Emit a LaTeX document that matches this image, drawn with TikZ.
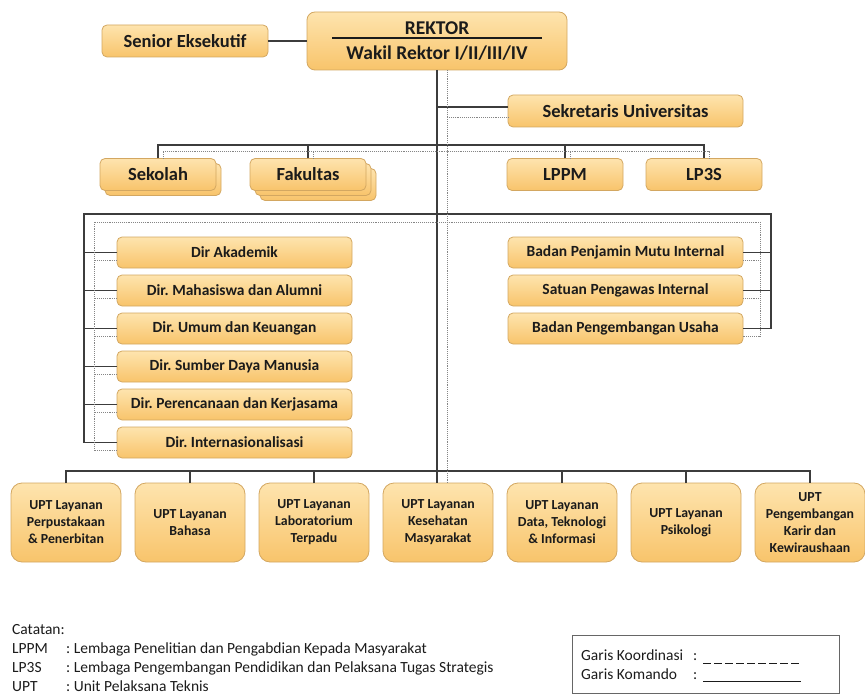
\documentclass[tikz,border=0pt]{standalone}
\usepackage{fontspec}
\setmainfont{Carlito}
\usepackage{tikz}
\usetikzlibrary{positioning}
\definecolor{boxtop}{HTML}{FEE4AE}
\definecolor{boxbottom}{HTML}{F8C46B}
\definecolor{boxedge}{HTML}{D3A761}
\definecolor{komandogray}{HTML}{3C3C3C}
\definecolor{koordgray}{HTML}{858585}
\definecolor{inkdark}{HTML}{1B1B1B}
\frenchspacing

\begin{document}
\begin{tikzpicture}[
    x=1pt, y=-1pt,
    unit/.style={rectangle, draw=boxedge, top color=boxtop, bottom color=boxbottom,
                 text=inkdark, align=center, rounded corners=5pt, line width=0.8pt,
                 inner sep=2pt, outer sep=0pt, minimum height=32pt,
                 font=\fontsize{18.5}{21}\selectfont\bfseries},
    dirunit/.style={unit, minimum width=235pt, minimum height=31pt,
                    font=\fontsize{15.5}{18}\selectfont\bfseries},
    uptunit/.style={unit, minimum width=110pt, minimum height=79pt, rounded corners=11pt,
                    font=\fontsize{13.8}{17}\selectfont\bfseries},
    komando/.style={draw=komandogray, line width=1.6pt},
    koordinasi/.style={draw=koordgray, line width=0.9pt, densely dotted},
    note/.style={anchor=base west, inner sep=0pt, text=inkdark,
                 font=\fontsize{15.5}{18}\selectfont}
]
    \useasboundingbox (0,0) rectangle (865,698);

    % pimpinan
    \node[unit, minimum width=260pt, minimum height=58pt, rounded corners=8pt,
          font=\fontsize{19.5}{25}\selectfont\bfseries] (rektor) at (437,41)
          {REKTOR\\Wakil Rektor I/II/III/IV};
    \draw[inkdark, line width=1.3pt] ([xshift=-105pt,yshift=3pt]rektor.center) -- ([xshift=105pt,yshift=3pt]rektor.center);
    \node[unit, minimum width=166pt] (senior) at (185,41) {Senior Eksekutif};
    \node[unit, minimum width=235pt] (sekretaris) at (625.5,111) {Sekretaris Universitas};

    % sekolah, fakultas, lembaga
    \node[unit, minimum width=116pt] (sekolahB) at (163,179.5) {};
    \node[unit, minimum width=116pt] (sekolah) at (158,174.5) {Sekolah};
    \node[unit, minimum width=116pt] (fakultasC) at (318,184.5) {};
    \node[unit, minimum width=116pt] (fakultasB) at (313,179.5) {};
    \node[unit, minimum width=116pt] (fakultas) at (308,174.5) {Fakultas};
    \node[unit, minimum width=116pt] (lppm) at (565,174.5) {LPPM};
    \node[unit, minimum width=116pt] (lp3s) at (704,174.5) {LP3S};

    % direktorat
    \node[dirunit] (dirakademik) at (234.5,252.5) {Dir Akademik};
    \node[dirunit, below=7pt of dirakademik] (dirmahasiswa) {Dir. Mahasiswa dan Alumni};
    \node[dirunit, below=7pt of dirmahasiswa] (dirumum) {Dir. Umum dan Keuangan};
    \node[dirunit, below=7pt of dirumum] (dirsdm) {Dir. Sumber Daya Manusia};
    \node[dirunit, below=7pt of dirsdm] (dirperencanaan) {Dir. Perencanaan dan Kerjasama};
    \node[dirunit, below=7pt of dirperencanaan] (dirinter) {Dir. Internasionalisasi};

    % badan
    \node[dirunit] (bpmi) at (625.5,252.5) {Badan Penjamin Mutu Internal};
    \node[dirunit, below=7pt of bpmi] (spi) {Satuan Pengawas Internal};
    \node[dirunit, below=7pt of spi] (bpu) {Badan Pengembangan Usaha};

    % UPT
    \node[uptunit] (uptperpus) at (66,522.5) {UPT Layanan\\Perpustakaan\\\& Penerbitan};
    \node[uptunit, right=14pt of uptperpus] (uptbahasa) {UPT Layanan\\Bahasa};
    \node[uptunit, right=14pt of uptbahasa] (uptlab) {UPT Layanan\\Laboratorium\\Terpadu};
    \node[uptunit, right=14pt of uptlab] (uptkesehatan) {UPT Layanan\\Kesehatan\\Masyarakat};
    \node[uptunit, right=14pt of uptkesehatan] (uptdata) {UPT Layanan\\Data, Teknologi\\\& Informasi};
    \node[uptunit, right=14pt of uptdata] (uptpsikologi) {UPT Layanan\\Psikologi};
    \node[uptunit, right=14pt of uptpsikologi] (uptkarir) {UPT\\Pengembangan\\Karir dan\\Kewiraushaan};

    % garis komando
    \coordinate (sekK) at (437,107);
    \coordinate (lembagaK) at (437,145);
    \coordinate (dirK) at (84,214);
    \coordinate (badanK) at (771,214);
    \coordinate (uptK) at (437,471);
    \draw[komando] (senior) -- (rektor);
    \draw[komando] (rektor.south) -- (rektor.south |- uptkesehatan.north);
    \draw[komando] (sekK) -- (sekK -| sekretaris.west);
    \draw[komando] (sekolah.north) |- (lembagaK) -| (lp3s.north);
    \draw[komando] (fakultas.north) -- (fakultas.north |- lembagaK);
    \draw[komando] (lppm.north) -- (lppm.north |- lembagaK);
    \draw[komando] (dirinter.west) -| (dirK) -- (badanK) |- (bpu.east);
    \draw[komando] (dirakademik.west) -- (dirakademik.west -| dirK);
    \draw[komando] (dirmahasiswa.west) -- (dirmahasiswa.west -| dirK);
    \draw[komando] (dirumum.west) -- (dirumum.west -| dirK);
    \draw[komando] (dirsdm.west) -- (dirsdm.west -| dirK);
    \draw[komando] (dirperencanaan.west) -- (dirperencanaan.west -| dirK);
    \draw[komando] (bpmi.east) -- (bpmi.east -| badanK);
    \draw[komando] (spi.east) -- (spi.east -| badanK);
    \draw[komando] (uptperpus.north) |- (uptK) -| (uptkarir.north);
    \draw[komando] (uptbahasa.north) -- (uptbahasa.north |- uptK);
    \draw[komando] (uptlab.north) -- (uptlab.north |- uptK);
    \draw[komando] (uptdata.north) -- (uptdata.north |- uptK);
    \draw[komando] (uptpsikologi.north) -- (uptpsikologi.north |- uptK);

    % garis koordinasi
    \coordinate (rektorD) at (447,70);
    \coordinate (sekD) at (447,117);
    \coordinate (lembagaD) at (447,151);
    \coordinate (dirD) at (94,222);
    \coordinate (badanD) at (760,222);
    \draw[koordinasi] (rektorD) -- (rektorD |- uptkesehatan.north);
    \draw[koordinasi] (sekD) -- (sekD -| sekretaris.west);
    \draw[koordinasi] ([xshift=5pt]sekolah.north) |- (lembagaD) -| ([xshift=5pt]lp3s.north);
    \draw[koordinasi] ([xshift=5pt]fakultas.north) -- ([xshift=5pt]fakultas.north |- lembagaD);
    \draw[koordinasi] ([xshift=5pt]lppm.north) -- ([xshift=5pt]lppm.north |- lembagaD);
    \draw[koordinasi] ([yshift=-8pt]dirinter.west) -| (dirD) -- (badanD) |- ([yshift=-8pt]bpu.east);
    \draw[koordinasi] ([yshift=-8pt]dirakademik.west) -- ([yshift=-8pt]dirakademik.west -| dirD);
    \draw[koordinasi] ([yshift=-8pt]dirmahasiswa.west) -- ([yshift=-8pt]dirmahasiswa.west -| dirD);
    \draw[koordinasi] ([yshift=-8pt]dirumum.west) -- ([yshift=-8pt]dirumum.west -| dirD);
    \draw[koordinasi] ([yshift=-8pt]dirsdm.west) -- ([yshift=-8pt]dirsdm.west -| dirD);
    \draw[koordinasi] ([yshift=-8pt]dirperencanaan.west) -- ([yshift=-8pt]dirperencanaan.west -| dirD);
    \draw[koordinasi] ([yshift=-8pt]bpmi.east) -- ([yshift=-8pt]bpmi.east -| badanD);
    \draw[koordinasi] ([yshift=-8pt]spi.east) -- ([yshift=-8pt]spi.east -| badanD);

    % catatan
    \node[note] (catatan) at (12,634) {Catatan:};
    \node[note] (lppmkey) at (12,653) {LPPM};
    \node[note] (lppmdesc) at (66,653) {: Lembaga Penelitian dan Pengabdian Kepada Masyarakat};
    \node[note] (lp3skey) at (12,672) {LP3S};
    \node[note] (lp3sdesc) at (66,672) {: Lembaga Pengembangan Pendidikan dan Pelaksana Tugas Strategis};
    \node[note] (uptkey) at (12,691) {UPT};
    \node[note] (uptdesc) at (66,691) {: Unit Pelaksana Teknis};

    % keterangan garis
    \node[draw=black!60, line width=0.8pt, minimum width=267pt, minimum height=58pt,
          inner sep=0pt] (legenda) at (705.5,664) {};
    \node[note] (koordkey) at (581,660) {Garis Koordinasi};
    \node[note] (komandokey) at (581,679) {Garis Komando};
    \node[note] (koordcolon) at (693,660) {:};
    \node[note] (komandocolon) at (693,679) {:};
    \draw[inkdark, line width=1pt, dash pattern=on 8pt off 3pt] (703,663) -- (801,663);
    \draw[inkdark, line width=1pt] (703,681) -- (801,681);
\end{tikzpicture}
\end{document}
